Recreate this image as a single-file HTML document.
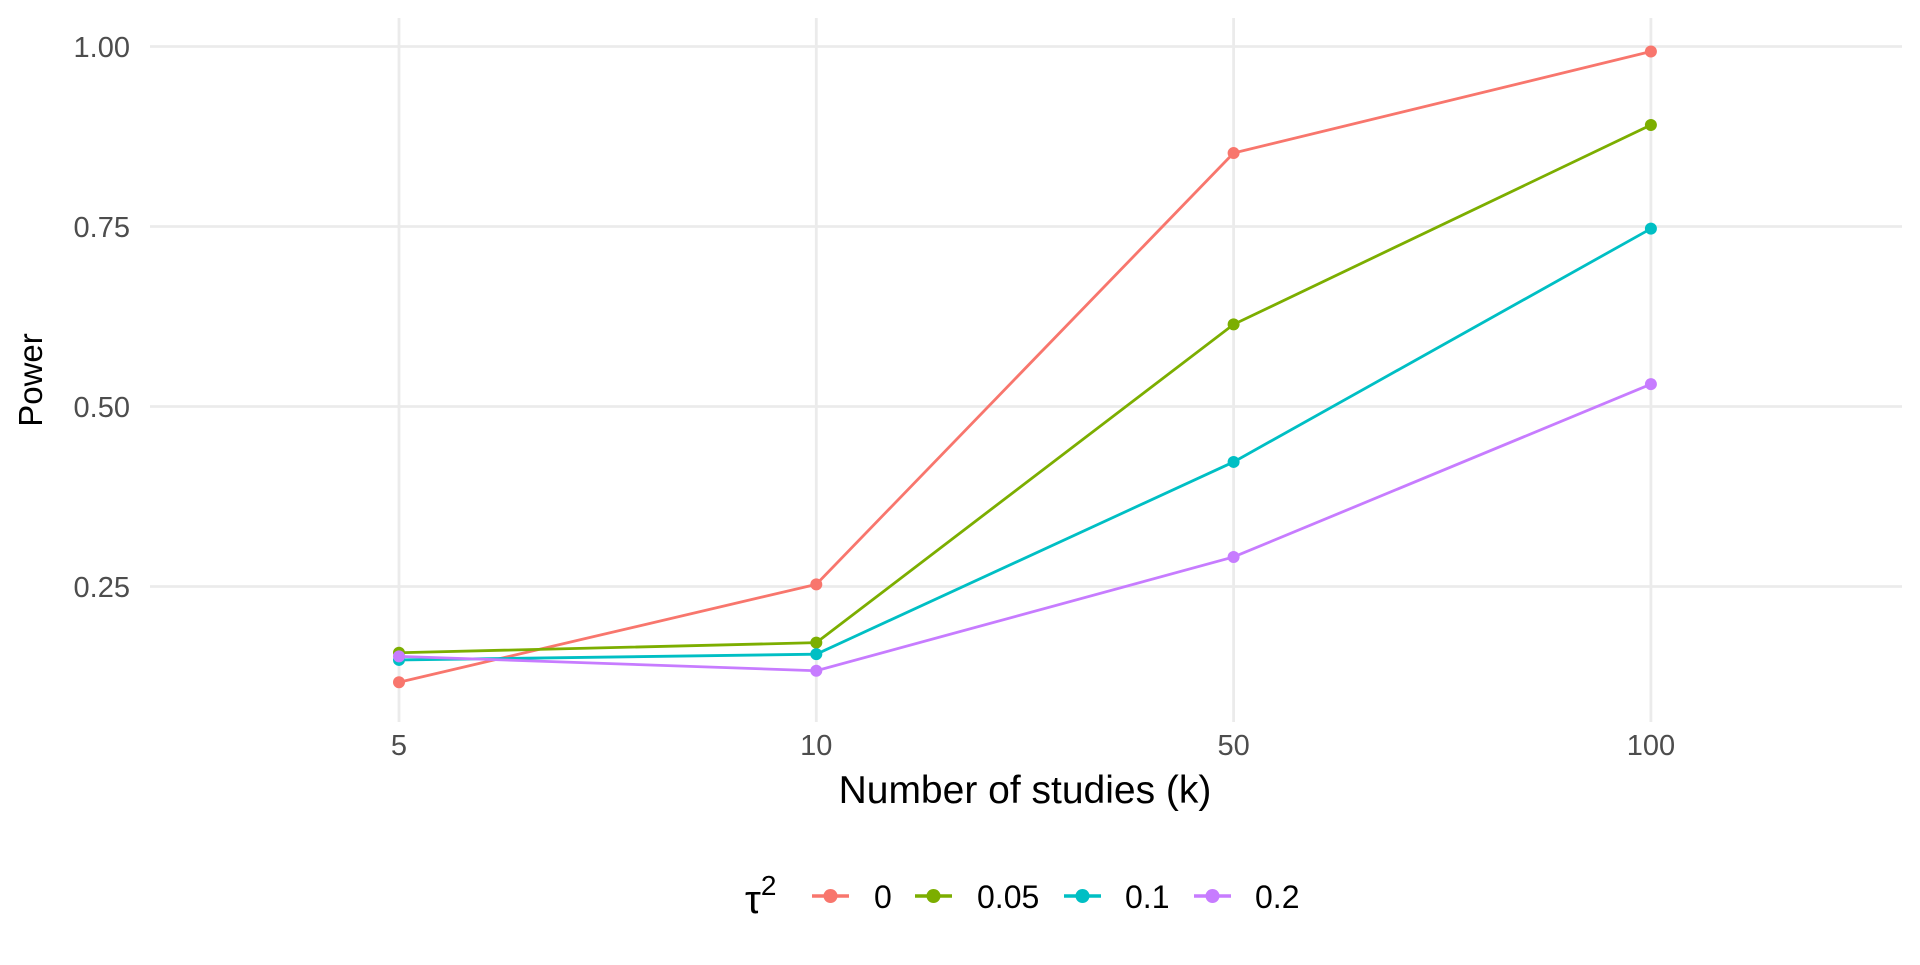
<!DOCTYPE html>
<html><head><meta charset="utf-8"><style>
body{margin:0;background:#fff;}
svg text{font-family:"Liberation Sans",sans-serif;}
</style></head><body>
<svg id="chart" width="1920" height="960" xmlns="http://www.w3.org/2000/svg">
<g id="grid"></g>
<g id="series"></g>
<g id="axes"></g>
<text x="42" y="380" transform="rotate(-90 42 380)" text-anchor="middle" font-size="33" fill="#000">Power</text>
<text x="1025" y="803" text-anchor="middle" font-size="39" fill="#000">Number of studies (k)</text>
<g id="legend">
<text x="745" y="913" font-size="40" fill="#000">τ<tspan dy="-18" font-size="28">2</tspan></text>
</g>
</svg>
<script>
const categories = ["5","10","50","100"];
const yTicks = [0.25,0.5,0.75,1.0];
const yTickLabels = ["0.25","0.50","0.75","1.00"];
const seriesNames = ["0","0.05","0.1","0.2"];
const seriesColors = ["#F8766D","#7CAE00","#00BFC4","#C77CFF"];
const s0 = [0.117,0.253,0.852,0.993];
const s005 = [0.158,0.172,0.614,0.891];
const s01 = [0.148,0.156,0.423,0.747];
const s02 = [0.153,0.133,0.291,0.531];
const seriesValues = [s0,s005,s01,s02];

const NS="http://www.w3.org/2000/svg";
const xPos = i => 399 + i*417.3;
const yPos = v => 766.5 - v*720;
function mk(tag, attrs, parent){const e=document.createElementNS(NS,tag);for(const k in attrs)e.setAttribute(k,attrs[k]);parent.appendChild(e);return e;}
const grid=document.getElementById('grid'), axes=document.getElementById('axes'), ser=document.getElementById('series'), leg=document.getElementById('legend');
yTicks.forEach((t,i)=>{
  const l=mk('line',{x1:150,x2:1902,y1:yPos(t),y2:yPos(t),stroke:'#ebebeb','stroke-width':2.8},grid);
  
  
  const tx=mk('text',{x:130,y:yPos(t)+10.5,'text-anchor':'end','font-size':29,fill:'#4d4d4d'},axes);
  tx.textContent=yTickLabels[i];
  
  
});
categories.forEach((c,i)=>{
  const l=mk('line',{x1:xPos(i),x2:xPos(i),y1:18,y2:722,stroke:'#ebebeb','stroke-width':2.8},grid);
  
  
  const tx=mk('text',{x:xPos(i),y:755,'text-anchor':'middle','font-size':29,fill:'#4d4d4d'},axes);
  tx.textContent=c;
  
  
});
seriesValues.forEach((vals,si)=>{
  const pts=vals.map((v,i)=>xPos(i)+','+yPos(v)).join(' ');
  const pl=mk('polyline',{points:pts,fill:'none',stroke:seriesColors[si],'stroke-width':2.8},ser);
  
  
});
seriesValues.forEach((vals,si)=>{
  vals.forEach((v,i)=>{
    const c=mk('circle',{cx:xPos(i),cy:yPos(v),r:6,fill:seriesColors[si]},ser);
    
    
  });
});
const keyX=[812,915,1064,1194], labX=[874,977,1125,1255];
seriesNames.forEach((n,i)=>{
  const g=mk('g',{},leg);
  
  
  mk('line',{x1:keyX[i],x2:keyX[i]+37,y1:896,y2:896,stroke:seriesColors[i],'stroke-width':3.6},g);
  mk('circle',{cx:keyX[i]+18.5,cy:896,r:7,fill:seriesColors[i]},g);
  const t=mk('text',{x:labX[i],y:908,'font-size':32,fill:'#000'},g);
  t.textContent=n;
});
</script>
</body></html>
